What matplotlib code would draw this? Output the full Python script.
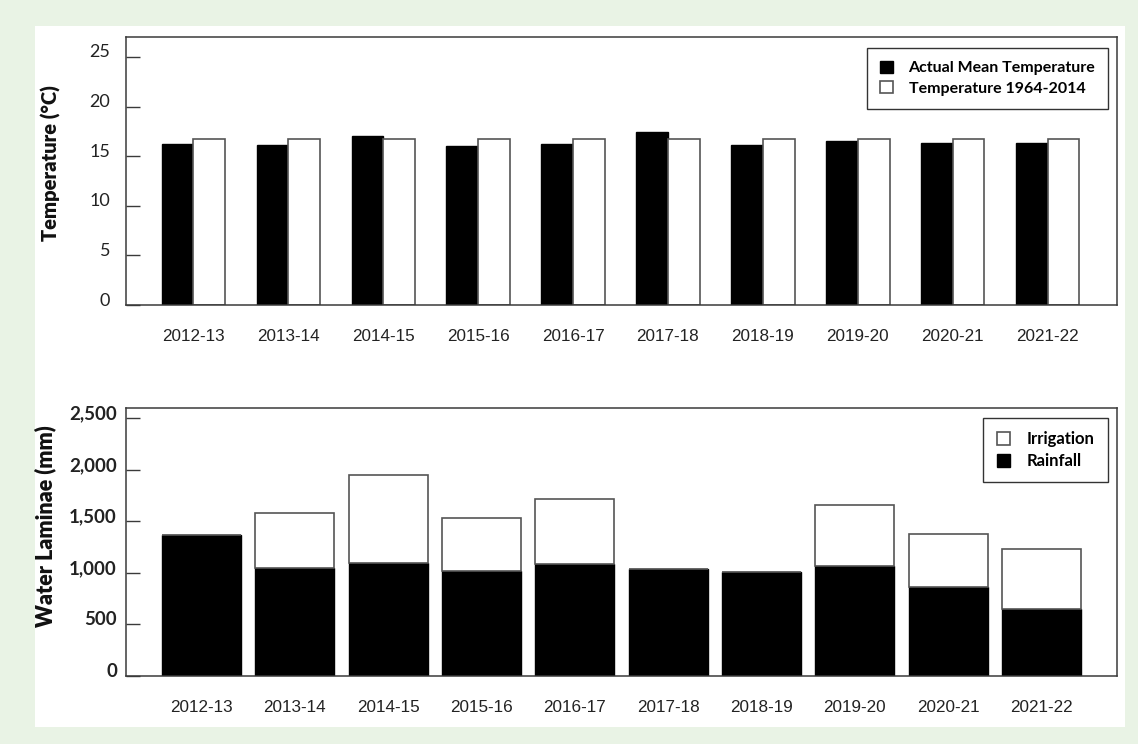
import numpy as np
import matplotlib
matplotlib.use("Agg")
import matplotlib.pyplot as plt
from matplotlib.patches import Rectangle
from matplotlib.transforms import ScaledTranslation

# ---- data ----
seasons = ["2012-13", "2013-14", "2014-15", "2015-16", "2016-17",
           "2017-18", "2018-19", "2019-20", "2020-21", "2021-22"]
temp_actual = [16.2, 16.15, 17.0, 16.05, 16.25, 17.4, 16.1, 16.5, 16.3, 16.3]
temp_normal = [16.75, 16.75, 16.75, 16.75, 16.75, 16.75, 16.75, 16.75, 16.75, 16.75]
rainfall = [1368, 1048, 1099, 1015, 1089, 1035, 1006, 1067, 860, 647]
irrigation = [0, 536, 848, 514, 628, 0, 0, 589, 517, 582]

# ---- style ----
BG_GREEN = "#e9f3e5"
EDGE_GREY = "#555555"
SPINE = "#3a3a3a"
FONT = "Lato"

x = np.arange(len(seasons))

fig = plt.figure(figsize=(11.38, 7.44), dpi=100, facecolor=BG_GREEN)
fig.add_artist(Rectangle((35 / 1138, 1 - 727 / 744), 1090 / 1138, 701 / 744,
                         transform=fig.transFigure, facecolor="white",
                         edgecolor="none", zorder=0))

ax1 = fig.add_axes([0.1107, 0.590, 0.8708, 0.3602])
ax2 = fig.add_axes([0.1107, 0.0914, 0.8708, 0.3602])


def style_axes(ax, bold_ticks, size, pad):
    for s in ax.spines.values():
        s.set_color(SPINE)
        s.set_linewidth(1.1)
    ax.tick_params(axis="y", direction="in", length=10, width=1, color=SPINE,
                   pad=pad, labelsize=size, labelcolor="#222222")
    ax.tick_params(axis="x", length=0, pad=17)
    ax.set_xticks(x)
    ax.set_xticklabels(seasons, fontfamily="Liberation Sans", fontsize=12.3,
                       color="#222222")
    for lab in ax.get_yticklabels():
        lab.set_fontfamily(FONT)
        lab.set_fontweight("bold" if bold_ticks else "normal")
        # nudge the numbers a little above their ticks
        lab.set_transform(lab.get_transform() +
                          ScaledTranslation(0, 6 / 100, fig.dpi_scale_trans))


# ---- temperature ----
w = 0.334
ax1.bar(x - w / 2, temp_actual, width=w, color="black", edgecolor="black",
        linewidth=1, label="Actual Mean Temperature")
ax1.bar(x + w / 2, temp_normal, width=w, color="white", edgecolor=EDGE_GREY,
        linewidth=1.2, label="Temperature 1964-2014")
ax1.set_xlim(-0.71, 9.73)
ax1.set_ylim(0, 27)
ax1.set_yticks([0, 5, 10, 15, 20, 25])
style_axes(ax1, bold_ticks=False, size=13, pad=11.5)
ax1.set_ylabel("Temperature (°C)", fontfamily=FONT, fontweight="heavy",
               fontsize=14.5, color="#111111")
ax1.yaxis.set_label_coords(-0.066, 0.53)
leg1 = ax1.legend(loc="upper right", bbox_to_anchor=(0.991, 0.959),
                  borderaxespad=0, fancybox=False, edgecolor="#333333",
                  framealpha=1, handlelength=0.8, handleheight=0.8,
                  handletextpad=1.0, borderpad=0.8, labelspacing=0.35,
                  prop={"family": FONT, "weight": "bold", "size": 11.5})
leg1.get_frame().set_linewidth(1)

# ---- water laminae ----
bw = 0.847
ax2.bar(x, rainfall, width=bw, color="black", edgecolor="black",
        linewidth=1, label="Rainfall", zorder=2)
ax2.bar(x, irrigation, width=bw, bottom=rainfall, color="white",
        edgecolor=EDGE_GREY, linewidth=1.2, label="Irrigation", zorder=2)
ax2.set_xlim(-0.81, 9.81)
ax2.set_ylim(0, 2600)
ax2.set_yticks([0, 500, 1000, 1500, 2000, 2500])
ax2.set_yticklabels(["0", "500", "1,000", "1,500", "2,000", "2,500"])
style_axes(ax2, bold_ticks=True, size=13.5, pad=6.5)
ax2.set_ylabel("Water Laminae (mm)", fontfamily=FONT, fontweight="heavy",
               fontsize=15.5, color="#111111")
ax2.yaxis.set_label_coords(-0.07, 0.56)
handles, labels = ax2.get_legend_handles_labels()
leg2 = ax2.legend(handles[::-1], labels[::-1], loc="upper right",
                  bbox_to_anchor=(0.991, 0.963), borderaxespad=0,
                  fancybox=False, edgecolor="#333333", framealpha=1,
                  handlelength=0.8, handleheight=0.8, handletextpad=1.0,
                  borderpad=0.8, labelspacing=0.35,
                  prop={"family": FONT, "weight": "bold", "size": 12})
leg2.get_frame().set_linewidth(1)

fig.savefig("out.png", dpi=100, facecolor=BG_GREEN)
